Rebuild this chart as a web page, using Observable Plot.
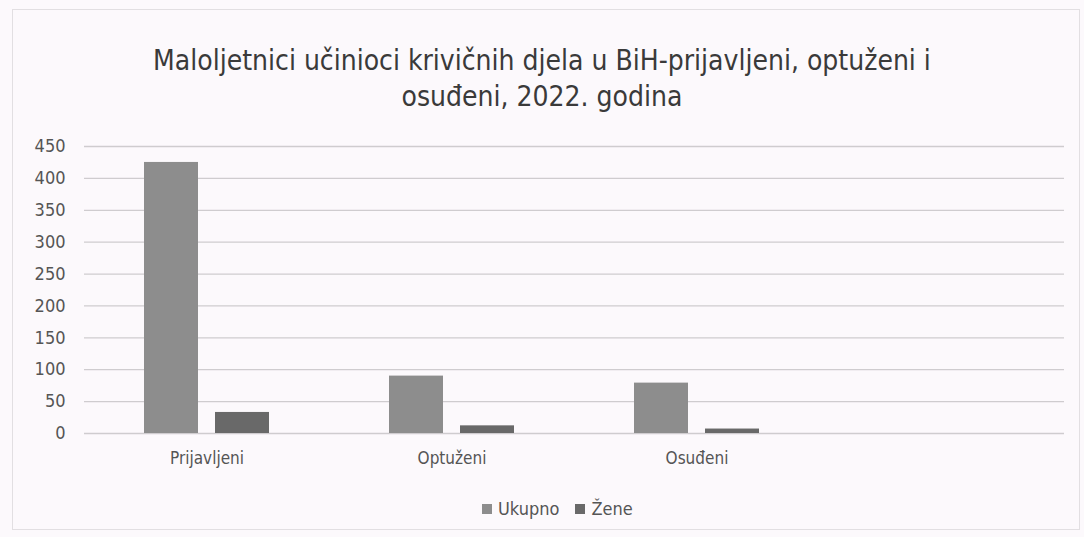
<!DOCTYPE html>
<html>
<head>
<meta charset="utf-8">
<script src="https://cdn.jsdelivr.net/npm/d3@7"></script>
<script src="https://cdn.jsdelivr.net/npm/@observablehq/plot@0.6"></script>
<style>
  body { margin: 0; background: #fcf9fc; width: 1084px; height: 537px; position: relative; overflow: hidden; }
  #frame { position: absolute; left: 12px; top: 9px; width: 1068px; height: 521px; border: 1px solid #e2dfe2; box-sizing: border-box; }
  #title { position: absolute; left: 0; top: 43px; width: 1084px; text-align: center; font-family: "DejaVu Sans Condensed", sans-serif; font-size: 28px; line-height: 36px; color: #3a3a3a; }
  #chart { position: absolute; left: 0; top: 120px; }
  #legend { position: absolute; left: 482px; top: 498px; font-family: "DejaVu Sans Condensed", sans-serif; font-size: 18px; color: #555; display: flex; align-items: center; gap: 16px; }
  #legend span.item { display: flex; align-items: center; gap: 6px; }
  #legend span.sw { width: 10px; height: 10px; display: inline-block; }
</style>
</head>
<body>
<div id="frame"></div>
<div id="title">Maloljetnici učinioci krivičnih djela u BiH-prijavljeni, optuženi i<br>osuđeni, 2022. godina</div>
<div id="chart"></div>
<div id="legend"></div>
<script>
const categories = ["Prijavljeni", "Optuženi", "Osuđeni", ""];
const series = ["Ukupno", "Žene"];
const ukupno = [425, 90, 79];
const zene = [33, 12, 7];
const yTicks = [0, 50, 100, 150, 200, 250, 300, 350, 400, 450];
const colors = ["#8d8d8d", "#696969"];

const data = [];
categories.forEach((c, i) => {
  if (i < ukupno.length) {
    data.push({category: c, series: series[0], value: ukupno[i]});
    data.push({category: c, series: series[1], value: zene[i]});
  }
});
// gridlines in every category band (including the empty fourth one)
const grid = categories.flatMap(c => yTicks.map(v => ({category: c, v})));

const font = '"DejaVu Sans Condensed", sans-serif';

const chart = Plot.plot({
  width: 1084,
  height: 370,
  marginTop: 26,
  marginBottom: 57,
  marginLeft: 82,
  marginRight: 19,
  style: {fontFamily: font, fontSize: "16px", color: "#555", background: "transparent"},
  fx: {domain: categories, padding: 0, label: null, axis: null},
  x: {domain: series, paddingInner: 0.236, paddingOuter: 0.826, axis: null},
  y: {domain: [0, 450], label: null, axis: null},
  color: {domain: series, range: colors},
  marks: [
    Plot.ruleY(grid, {fx: "category", y: "v", stroke: "#cfcccf", strokeWidth: 1.3}),
    Plot.barY(data, {fx: "category", x: "series", y: "value", fill: "series"}),
    Plot.axisY(yTicks, {tickSize: 0, tickPadding: 19, label: null, fontSize: 18, fill: "#555"}),
    Plot.axisFx({anchor: "bottom", tickSize: 0, tickPadding: 18, label: null, fontSize: 17, fill: "#555"})
  ]
});
document.getElementById("chart").appendChild(chart);

const legend = document.getElementById("legend");
series.forEach((s, i) => {
  const item = document.createElement("span");
  item.className = "item";
  const sw = document.createElement("span");
  sw.className = "sw";
  sw.style.background = colors[i];
  const t = document.createElement("span");
  t.textContent = s;
  item.appendChild(sw);
  item.appendChild(t);
  legend.appendChild(item);
});
</script>
</body>
</html>
